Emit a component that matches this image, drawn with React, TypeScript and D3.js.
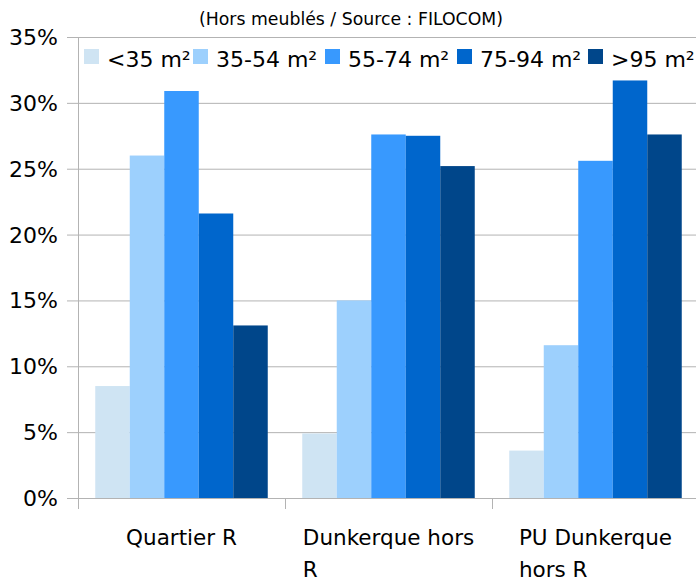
import { useEffect, useRef } from "react";
import * as d3 from "d3";

const categories = [["Quartier R"], ["Dunkerque hors", "R"], ["PU Dunkerque", "hors R"]];
const series = ["<35 m²", "35-54 m²", "55-74 m²", "75-94 m²", ">95 m²"];
const colors = ["#cfe4f3", "#9dd0fd", "#3899fe", "#0066cc", "#00468a"];
// values in % per category, one array per series
const lt35 = [8.5, 4.9, 3.6];
const s35_54 = [26.0, 15.0, 11.6];
const s55_74 = [30.9, 27.6, 25.6];
const s75_94 = [21.6, 27.5, 31.7];
const gt95 = [13.1, 25.2, 27.6];
const values = [lt35, s35_54, s55_74, s75_94, gt95];
const yTicks = [0, 5, 10, 15, 20, 25, 30, 35];

const W = 696;
const H = 581;

export default function App() {
    const ref = useRef<SVGSVGElement | null>(null);

    useEffect(() => {
        const svg = d3.select(ref.current);
        svg.selectAll("*").remove();
        const font = "DejaVu Sans, sans-serif";
        const left = 78, right = 699, top = 37, bottom = 498;

        const x = d3.scaleBand<number>().domain([0, 1, 2]).range([left, right]);
        const xi = d3.scaleBand<number>().domain([0, 1, 2, 3, 4])
            .range([0, x.bandwidth()]).paddingOuter(0.5).paddingInner(0);
        const y = d3.scaleLinear().domain([0, 35]).range([bottom, top]);

        // grid
        svg.append("g").selectAll("line").data(yTicks).join("line")
            .attr("x1", left - 11).attr("x2", W)
            .attr("y1", (d) => y(d) + 0.5).attr("y2", (d) => y(d) + 0.5)
            .attr("stroke", "#b3b3b3").attr("stroke-width", 1);

        // bars
        series.forEach((s, si) => {
            svg.append("g").selectAll("rect").data(values[si]).join("rect")
                .attr("x", (d, i) => (x(i) ?? 0) + (xi(si) ?? 0))
                .attr("y", (d) => y(d))
                .attr("width", xi.bandwidth())
                .attr("height", (d) => bottom - y(d))
                .attr("fill", colors[si]);
        });

        // axes lines
        svg.append("line").attr("x1", left + 0.5).attr("x2", left + 0.5)
            .attr("y1", top).attr("y2", bottom + 11).attr("stroke", "#b3b3b3");
        svg.append("g").selectAll("line").data([1, 2, 3]).join("line")
            .attr("x1", (d) => left + d * x.bandwidth() + 0.5)
            .attr("x2", (d) => left + d * x.bandwidth() + 0.5)
            .attr("y1", bottom).attr("y2", bottom + 11).attr("stroke", "#b3b3b3");

        // y labels
        svg.append("g").selectAll("text").data(yTicks).join("text")
            .attr("x", 58).attr("y", (d) => y(d) + 8)
            .attr("text-anchor", "end").attr("font-family", font).attr("font-size", 22)
            .attr("fill", "#000").text((d) => d + "%");

        // x labels (wrapped, block centred, lines left-aligned)
        categories.forEach((lines, i) => {
            const cx = (x(i) ?? 0) + x.bandwidth() / 2;
            const t = svg.append("text").attr("font-family", font).attr("font-size", 21.5).attr("fill", "#000");
            t.append("tspan").attr("x", cx).attr("y", 545).attr("text-anchor", "middle").text(lines[0]);
            const node = t.node() as SVGTextElement;
            const w = node.getComputedTextLength();
            if (lines[1]) {
                t.append("tspan").attr("x", cx - w / 2).attr("y", 577).text(lines[1]);
            }
        });

        // legend
        const lg = svg.append("g");
        const legendX = [84, 193, 325, 457, 588];
        series.forEach((s, si) => {
            lg.append("rect").attr("x", legendX[si]).attr("y", 49).attr("width", 15).attr("height", 15)
                .attr("fill", colors[si]);
            lg.append("text").attr("x", legendX[si] + 23).attr("y", 67)
                .attr("font-family", font).attr("font-size", 22).attr("fill", "#000").text(s);
        });

        // subtitle
        svg.append("text").attr("x", 199).attr("y", 25)
            .attr("font-family", font).attr("font-size", 17).attr("fill", "#000")
            .attr("textLength", 304).attr("lengthAdjust", "spacingAndGlyphs")
            .text("(Hors meublés / Source : FILOCOM)");
    }, []);

    return (
        <svg ref={ref} width={W} height={H}
            style={{ position: "absolute", left: 0, top: 0, background: "#fff" }} />
    );
}
